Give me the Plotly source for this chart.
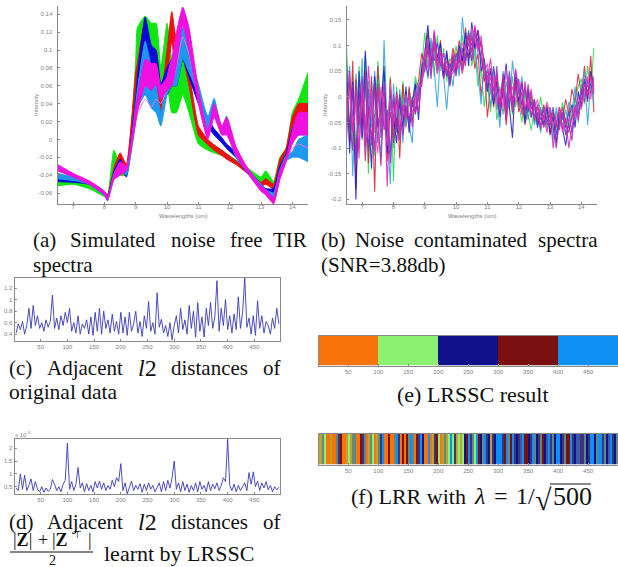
import plotly.graph_objects as go

W, H = 618, 567

# ---------- (a) noise-free spectra: envelope of each endmember family ----------
wl_knots = [6.5,7,7.5,8,8.1,8.3,8.5,8.7,9,9.05,9.3,9.5,9.65,9.8,10,10.15,10.3,10.5,10.7,11,11.3,11.5,11.75,11.9,12.2,12.5,13,13.15,13.4,13.6,13.8,14,14.2,14.5]
green_low = [-.052,-.050,-.055,-.064,-.066,-.030,-.040,-.040,.060,.080,.090,.080,.060,.050,.060,.030,.030,.050,.030,-.005,-.012,-.015,-.018,-.021,-.027,-.035,-.048,-.046,-.050,-.030,-.015,.000,.020,.030]
green_up = [-.046,-.046,-.050,-.060,-.062,-.012,-.028,-.032,.090,.125,.138,.130,.130,.080,.130,.090,.080,.100,.070,.010,-.005,-.010,-.012,-.016,-.023,-.030,-.042,-.035,-.047,-.020,-.010,.030,.045,.075]
red_low = [-.046,-.047,-.050,-.062,-.065,-.040,-.025,-.035,.060,.070,.100,.060,.050,.030,.070,.110,.070,.090,.060,.005,-.006,-.012,-.018,-.022,-.028,-.036,-.052,-.050,-.055,-.030,-.015,.015,.010,.010]
red_up = [-.040,-.042,-.047,-.058,-.062,-.032,-.015,-.028,.075,.085,.135,.090,.070,.050,.100,.143,.110,.100,.075,.015,.000,-.006,-.012,-.016,-.024,-.032,-.048,-.044,-.050,-.022,-.010,.025,.040,.040]
blue_low = [-.047,-.048,-.050,-.062,-.066,-.042,-.030,-.042,.030,.045,.090,.070,.060,.050,.050,.060,.060,.090,.070,.040,.015,.005,-.004,-.010,-.020,-.035,-.055,-.060,-.062,-.038,-.022,.002,.005,.005]
blue_up = [-.043,-.044,-.047,-.059,-.063,-.036,-.022,-.036,.050,.070,.137,.105,.100,.062,.080,.090,.095,.125,.095,.050,.025,.012,.002,-.005,-.014,-.030,-.050,-.055,-.055,-.030,-.016,.012,.025,.030]
sky_low = [-.044,-.046,-.050,-.063,-.069,-.044,-.032,-.040,.020,.035,.050,.035,.030,.015,.050,.060,.060,.090,.075,.050,.010,.030,.005,.010,-.020,-.034,-.055,-.062,-.070,-.042,-.024,-.020,-.020,-.025]
sky_up = [-.038,-.042,-.047,-.060,-.064,-.038,-.026,-.034,.040,.055,.110,.080,.060,.030,.070,.090,.095,.125,.100,.062,.025,.046,.012,.026,-.010,-.030,-.050,-.056,-.060,-.034,-.018,-.014,.000,.005]
mag_low = [-.035,-.042,-.050,-.062,-.068,-.045,-.040,-.035,.020,.030,.060,.055,.062,.045,.055,.060,.085,.128,.100,.040,.000,.025,.005,.005,-.018,-.034,-.058,-.062,-.072,-.045,-.025,-.005,.005,.005]
mag_up = [-.028,-.038,-.046,-.058,-.064,-.040,-.025,-.030,.036,.046,.090,.085,.085,.060,.070,.090,.120,.148,.125,.055,.010,.040,.015,.025,-.008,-.028,-.052,-.056,-.065,-.035,-.020,.010,.030,.030]
mag_faint = [-.034,-.041,-.049,-.061,-.067,-.044,-.039,-.034,.022,.028,.045,.036,.045,.040,.056,.062,.082,.115,.095,.042,.002,.026,.006,.006,-.017,-.033,-.057,-.061,-.070,-.044,-.024,-.010,-.005,-.010]

# ---------- (b) noisy spectra, thousandths of intensity, every 0.1 um from 6.5 ----------
noisy_green = [100,-60,40,-110,60,-40,80,-150,30,-70,70,-30,50,-90,40,-165, 20,-50,30,-40,15,-20,40,10,60, 125,60,110,40,120,50,95,30,75,60, 100,50,120,80,130,60,90,20,55,-20, 30,-30,50,-45,-10,40,-25,30,-35,10, -10,-50,15,-35,-65,-20,-50,0,-40,-60, -25,-70,-30,-55,-10,-60,-25,-45,-5,20, 35,-15,60,10,95]
noisy_red = [30,-90,70,-180,10,-60,50,-130,40,-185,60,-40,20,-125,35,-80, 5,-120,25,-60,20,-50,15,30,85, 60,125,70,100,45,110,35,85,50,95, 65,110,60,135,75,120,55,85,0,60, -40,20,-20,45,-30,30,-55,25,-15,35, -30,-10,-55,-25,5,-50,-30,-65,-40,-15, -70,-35,-60,-20,-45,-5,-35,15,-10,45, 5,60,-10,80,-30]
noisy_sky = [-20,60,-155,20,-70,75,-100,30,-60,50,-40,-120,110,-60,-170,25, -70,15,-90,10,-55,-90,30,0,45, 90,35,115,55,-20,85,40,-25,60,20, 80,40,155,90,130,70,100,45,-15,70, 20,-20,55,-5,-60,50,5,-25,70,20, -10,40,-50,-15,10,-55,-30,-70,-20,-50, -35,-85,-20,-60,-35,-75,-10,-30,20,-50, 10,50,-55,30,-15]
noisy_blue = [70,-110,30,-200,50,-80,90,-40,-140,40,-60,-20,60,-110,15,-40, -90,-10,-60,20,-70,-10,25,-45,55, 85,140,60,125,75,105,40,90,25,80, 45,100,70,125,60,145,95,130,50,75, 10,55,-15,30,-40,15,65,-20,-80,40, -10,25,-50,15,-40,-5,-60,-30,-55,-20, -75,-40,-90,-30,-65,-95,-45,-15,-60,10, -20,30,-5,50,20]
noisy_teal = [-60,20,-95,45,-30,-85,25,-70,5,-115,35,-55,-15,-80,10,-100, -25,-75,0,-55,-10,-40,-5,15,40, 65,105,50,90,60,100,55,80,45,70, 60,85,50,110,85,125,90,115,70,40, 55,5,35,-25,20,-35,30,-10,40,-20, 20,-25,10,-45,-5,-35,-55,-20,-50,-30, -60,-25,-70,-40,-55,-25,-60,-35,-5,-30, 25,0,30,15,40]
noisy_violet = [-85,35,-40,-125,15,-75,40,-105,-15,30,-90,10,-65,-25,-110,-5, -65,5,-45,-20,-60,0,-25,20,30, 75,40,95,70,105,60,85,40,65,50, 85,65,95,70,115,100,135,105,75,55, 40,20,60,0,-35,35,-15,50,-5,15, 35,-15,20,-30,-10,-40,-15,-45,-25,-55, -45,-20,-75,-50,-35,-60,-30,-70,-30,-15, 5,35,10,25,5]
noisy_plum = [5,-45,-105,35,-55,10,-125,-20,-85,20,-45,-135,5,-70,-30,-90, -40,-85,-15,-30,-45,-15,-30,-5,45, 50,90,65,110,70,85,60,50,30,75, 50,75,90,60,125,90,110,130,95,30, 50,35,15,25,-15,45,-30,15,-30,30, -20,10,-35,25,-25,-5,-40,-55,-15,-45, -55,-30,-50,-65,-20,-50,-70,-40,-25,-10, -15,15,20,45,10]
noisy_pink = [-45,15,-65,-15,-100,25,-35,-80,10,-60,-110,20,-40,-95,25,-50, -15,-60,-35,5,-35,-30,-10,25,20, 95,55,80,120,45,70,85,55,50,45, 70,55,105,95,85,135,115,85,120,45, 65,10,40,-15,15,-20,55,-5,20,-10, 30,15,-20,-5,-30,-25,-5,-35,-45,-10, -35,-55,-40,-30,-70,-45,-50,-20,-40,0, -25,10,40,-5,35]
noisy_mag = [-30,50,-70,10,-120,30,-95,60,-25,-105,15,-60,30,-175,-10,-60, 10,-70,-20,-40,5,-60,10,-30,35, 70,110,45,130,60,95,50,70,40,85, 55,80,45,100,120,85,140,95,110,60, 30,75,10,45,-30,25,-45,40,-20,55, 15,-35,30,-25,15,-45,-20,-60,-35,-70, -30,-100,-50,-20,-65,-40,-100,-55,-20,-45, -5,25,0,40,15]
noisy_purple = [10,-70,25,-130,-20,40,-65,15,-95,-30,25,-80,-10,-45,-130,5, -55,0,-75,-15,-50,-5,-35,5,25, 55,100,35,115,50,75,35,60,20,65, 40,95,50,80,105,70,125,90,105,65, 15,55,-10,60,-25,10,-45,35,-15,50, 5,30,-30,5,-40,-15,-50,-25,-60,-40, -20,-60,-100,-45,-30,-75,-55,-85,-15,-35, 15,-10,35,5,30]

# ---------- (c) adjacent l2 distances of original data, one reading every 4 samples ----------
dist_orig = [.42,.58,.48,.62,.40,.55,.85,.50,.90,.55,.72,.50,.60,.45,.65,.52,.62,1.08,.50,.68,.48,.72,.55,.78,.60,
             .85,.45,.60,.42,.72,.40,.58,.50,.65,.40,.70,.38,.78,.45,.85,.40,.80,.50,.65,.42,.75,.45,.62,.40,.78,
             .42,.70,.38,.78,.45,.58,.80,.42,.62,.36,.72,.50,.97,.45,.60,.40,1.12,.52,.66,.42,.55,.36,.60,.30,.55,
             .72,.42,.85,.48,.65,.40,.90,.50,.80,.35,.95,.45,.70,.35,.85,.55,.95,.50,.70,1.33,.45,.85,.55,1.0,.48,
             .72,.42,.75,.48,1.05,.50,.78,1.38,.52,.68,.40,.72,.38,.98,.50,.72,.42,.62,.55,.40,.68,.50,.85,.58]
# ---------- (d) adjacent l2 distances of the learnt matrix ----------
dist_lrssc = [.45,.35,1.0,.40,.95,.35,.55,.80,.35,.70,.40,.30,.50,.28,.45,.32,.40,.78,.60,.35,.50,.30,.60,.75,2.2,
              .40,.70,.35,.60,1.25,.45,.65,.30,.62,.35,.55,.30,.70,.45,.72,.40,.65,.35,.55,.40,.75,.50,.85,.70,1.4,
              .35,.65,.22,.45,.72,.35,.55,.40,.62,.28,.60,.35,.65,.40,.55,.30,.50,.65,.30,.70,.35,.75,.45,.85,1.5,
              .40,.65,.30,.70,.35,.60,.28,.55,.35,.65,.30,.70,.40,.55,.30,.70,.35,.60,.42,.65,.35,.55,.85,.70,2.35,
              .55,.35,.60,.30,.55,.35,.50,.65,.35,1.05,.60,1.08,.50,.72,.35,.65,.45,.70,.38,.55,.30,.50,.38,.48]

# ---------- (e) / (f) clustering strips ----------
lrssc_centres = [50,150,250,350,450]
lrssc_labels = ["O","G","N","M","S"]
lrr_labels = ("YYTGOOYOOTPMOOYGYTTOOMPTOYTGOYTPSOOMOOTSPOMOMTSTOM"
              "PSNOOSOYPMGOYTYGSGPYGYGNMSPTGSMNTSPNYPNSSSPMSTMSPN"
              "PLSMMNPSTNPTMNLSPTNSSNPTMMSPNLLPPTNPSSNTSSPTNLSPNT")
label_colours = {"O":"#f87408","G":"#8cf070","N":"#10108a","M":"#7a1010","S":"#0c90f4",
                 "Y":"#c0a030","T":"#5f8a84","P":"#3c3478","L":"#3a5aa8"}

GREY, TXT = "#8a8a8a", "#808080"
SERIF = "Liberation Serif"
SANS = "Liberation Sans"

def hdom(a, b): return [a / W, b / W]
def vdom(top, bot): return [1 - bot / H, 1 - top / H]

fig = go.Figure()
def axes(n, xd, yd, xr, yr, xt, yt, mirror=False, ytext=None, standoff=0):
    sfx = "" if n == 1 else str(n)
    common = dict(showgrid=False, zeroline=False, showline=True, linecolor=GREY, linewidth=1,
                  ticks="inside", ticklen=2, tickcolor=GREY, tickwidth=1,
                  tickfont=dict(size=6, color=TXT, family=SANS), mirror=mirror)
    fig.update_layout(**{
        "xaxis" + sfx: dict(domain=xd, range=xr, tickvals=xt, anchor="y" + sfx,
                            ticklabelstandoff=-standoff, **common),
        "yaxis" + sfx: dict(domain=yd, range=yr, tickvals=yt, ticktext=ytext, anchor="x" + sfx,
                            showticklabels=bool(yt), ticklabelstandoff=standoff, **common),
    })

# panel geometry
axes(1, hdom(57.5, 308), vdom(6, 204), [6.5, 14.5], [-.0722, .1493], list(range(7, 15)),
     [-.06,-.04,-.02,0,.02,.04,.06,.08,.1,.12,.14],
     ytext=["-0.06","-0.04","-0.02","0","0.02","0.04","0.06","0.08","0.1","0.12","0.14"], standoff=3)
axes(2, hdom(346.5, 597), vdom(6, 204), [6.5, 14.5], [-.209, .177], list(range(7, 15)),
     [-.2,-.15,-.1,-.05,0,.05,.1,.15],
     ytext=["-0.2","-0.15","-0.1","-0.05","0","0.05","0.1","0.15"], standoff=3)
axes(3, hdom(14.5, 280), vdom(277.5, 340.5), [1, 498], [.29, 1.385], list(range(50, 500, 50)),
     [.4,.6,.8,1,1.2], mirror=True, ytext=["0.4","0.6","0.8","1","1.2"])
axes(4, hdom(14.5, 280), vdom(438.5, 494), [1, 498], [.215, 2.38], list(range(50, 500, 50)),
     [.5,1,1.5,2], mirror=True, ytext=["0.5","1","1.5","2"])
axes(5, hdom(318.7, 618), vdom(335.5, 365.5), [.5, 500], [0, 1], list(range(50, 501, 50)), [], mirror=True)
axes(6, hdom(318.7, 618), vdom(433.5, 464.5), [.5, 500], [0, 1], list(range(50, 501, 50)), [], mirror=True)

def curve(vals, colour, **kw):
    fig.add_trace(go.Scatter(x=wl_knots, y=vals, mode="lines",
                             line=dict(color=colour, width=1, shape="spline", smoothing=.45),
                             showlegend=False, hoverinfo="skip", xaxis="x", yaxis="y", **kw))

def band(low, up, colour):
    curve(low, colour)
    curve(up, colour, fill="tonexty", fillcolor=colour)

band(green_low, green_up, "#10e610")
band(red_low, red_up, "#ee1010")
band(blue_low, blue_up, "#0808d8")
band(sky_low, sky_up, "#1c98ee")
curve(mag_faint, "#f070e0")
band(mag_low, mag_up, "#f010e0")

for vals, colour in [(noisy_green, "#30d850"), (noisy_red, "#d82030"), (noisy_sky, "#30a0e0"),
                     (noisy_teal, "#30b090"), (noisy_blue, "#1c1cc8"), (noisy_violet, "#5a40d0"),
                     (noisy_plum, "#b02890"), (noisy_purple, "#9030c0"), (noisy_pink, "#e848c8"),
                     (noisy_mag, "#e020b0")]:
    fig.add_trace(go.Scatter(x=[6.5 + .1 * i for i in range(len(vals))], y=[v / 1000 for v in vals],
                             mode="lines", line=dict(color=colour, width=1.1), opacity=.85,
                             showlegend=False, hoverinfo="skip", xaxis="x2", yaxis="y2"))

fig.add_trace(go.Scatter(x=[4 * (i + 1) for i in range(len(dist_orig))], y=dist_orig, mode="lines",
                         line=dict(color="#3a3ab4", width=.9), showlegend=False, hoverinfo="skip",
                         xaxis="x3", yaxis="y3"))
fig.add_trace(go.Scatter(x=[4 * (i + 1) for i in range(len(dist_lrssc))], y=dist_lrssc, mode="lines",
                         line=dict(color="#3a3ab4", width=.9), showlegend=False, hoverinfo="skip",
                         xaxis="x4", yaxis="y4"))

keys = list(label_colours)
steps = []
for i, k in enumerate(keys):
    steps += [[i / len(keys), label_colours[k]], [(i + 1) / len(keys), label_colours[k]]]
fig.add_trace(go.Heatmap(x=lrssc_centres, y=[.5], z=[[keys.index(c) for c in lrssc_labels]],
                         colorscale=steps, zmin=0, zmax=len(keys), showscale=False, hoverinfo="skip",
                         xaxis="x5", yaxis="y5"))
step = 500 / len(lrr_labels)
fig.add_trace(go.Heatmap(x=[step * (i + .5) for i in range(len(lrr_labels))], y=[.5],
                         z=[[keys.index(c) for c in lrr_labels]],
                         colorscale=steps, zmin=0, zmax=len(keys), showscale=False, hoverinfo="skip",
                         xaxis="x6", yaxis="y6"))

def text(px, py, s, size=21, colour="#111111", family=SERIF, anchor="left", angle=0):
    fig.add_annotation(xref="paper", yref="paper", x=px / W, y=1 - py / H, text=s, showarrow=False,
                       xanchor=anchor, yanchor="middle", textangle=angle, borderpad=0,
                       font=dict(size=size, color=colour, family=family))

for px, s in [(32, "(a)"), (69, "Simulated"), (170, "noise"), (229, "free"), (272, "TIR")]:
    text(px, 240, s)
text(32, 265, "spectra")
for px, s in [(320, "(b)"), (354, "Noise"), (413, "contaminated"), (537, "spectra")]:
    text(px, 240, s)
text(320, 265, "(SNR=3.88db)")
for py in (368, 522):
    tag = "(c)" if py == 368 else "(d)"
    for px, s in [(8, tag), (46, "Adjacent"), (170, "distances"), (262, "of")]:
        text(px, py, s)
    text(137, py, "<i>l</i>2", size=24)
text(8, 392, "original data", size=21.5)
text(12, 540, "|<b>Z</b>|", size=18)
text(37, 540, "+", size=18)
text(51, 540, "|<b>Z</b>", size=18)
text(77, 534, "⊤", size=10, anchor="center")
text(87, 540, "|", size=18)
text(52, 560, "2", size=14, anchor="center")
text(103, 553, "learnt by LRSSC", size=22)
text(396, 394, "(e) LRSSC result", size=22)
text(350, 496, "(f) LRR with", size=22)
text(473, 496, "<i>λ</i>", size=24)
text(493, 496, "=", size=24)
text(515, 496, "1/", size=24)
text(534, 499, "√", size=30)
text(552, 496, "500", size=26)

for cx, cy, s in [(36, 105, "Intensity"), (325, 105, "Intensity")]:
    text(cx, cy, s, size=6, colour=TXT, family=SANS, anchor="center", angle=-90)
text(183, 216, "Wavelengths (um)", size=6, colour=TXT, family=SANS, anchor="center")
text(472, 216, "Wavelengths (um)", size=6, colour=TXT, family=SANS, anchor="center")
text(14, 434, "x 10<sup>-3</sup>", size=6, colour=TXT, family=SANS)

fig.add_shape(type="line", xref="paper", yref="paper", x0=10 / W, x1=93 / W, y0=1 - 552 / H, y1=1 - 552 / H,
              line=dict(color="#111111", width=1))
fig.add_shape(type="line", xref="paper", yref="paper", x0=550 / W, x1=591 / W, y0=1 - 484 / H, y1=1 - 484 / H,
              line=dict(color="#111111", width=1))

fig.update_layout(width=W, height=H, margin=dict(l=0, r=0, t=0, b=0), autosize=False,
                  paper_bgcolor="white", plot_bgcolor="white", showlegend=False)
fig.write_html("out.html", config=dict(displayModeBar=False),
               post_script="document.body.style.margin='0';document.body.style.overflow='hidden';")
